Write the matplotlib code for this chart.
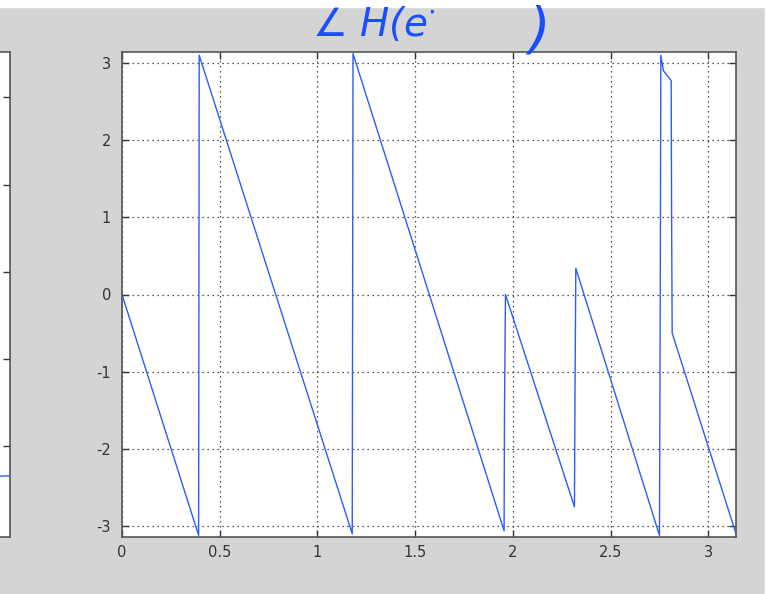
import numpy as np
import matplotlib.pyplot as plt

# phase of H(e^jw), vertices
w = [0.000, 0.392, 0.395, 1.178, 1.182, 1.955, 1.957, 1.962, 2.315, 2.318,
     2.322, 2.750, 2.754, 2.757, 2.770, 2.810, 2.812, 2.815, 3.1416]
phase = [0.00, -3.12, 3.10, -3.10, 3.12, -3.06, -1.52, 0.00, -2.75, -1.20,
         0.34, -3.12, 0.00, 3.10, 2.90, 2.77, 1.05, -0.50, -3.10]

# tail of the left (cut off) panel
w_left = [3.05, 3.10, 3.1416]
mag_left = [-0.36, -0.34, -0.34]

xticks = [0, 0.5, 1, 1.5, 2, 2.5, 3]
xticklabels = ['0', '0.5', '1', '1.5', '2', '2.5', '3']
yticks = [-3, -2, -1, 0, 1, 2, 3]

line_color = '#2a5cff'
bg = '#d4d4d4'

plt.rcParams['axes.unicode_minus'] = False

fig = plt.figure(figsize=(7.67, 5.94), dpi=100, facecolor=bg)
W, H = 767, 594

def style(ax):
    ax.tick_params(direction='in', top=True, right=True, length=5, width=1,
                   color='#333333', labelsize=10.5, labelcolor='#333333')
    for s in ax.spines.values():
        s.set_color('#555555')
        s.set_linewidth(1.2)
    ax.set_facecolor('white')

# left panel, mostly outside the picture (its labels are off-screen)
axl = fig.add_axes([(10 - 614) / W, (594 - 537) / H, 614 / W, 485 / H])
axl.plot(w_left, mag_left, color=line_color, lw=1)
axl.set_xlim(0, np.pi)
axl.set_ylim(-1.04, 4.52)
axl.set_yticks([0, 1, 2, 3, 4])
style(axl)
axl.tick_params(labelleft=False, labelbottom=False)

# main panel
ax = fig.add_axes([122 / W, (594 - 537) / H, 614 / W, 485 / H])
ax.plot(w, phase, color=line_color, lw=1)
ax.set_xlim(0, np.pi)
ax.set_ylim(-np.pi, np.pi)
ax.set_xticks(xticks)
ax.set_xticklabels(xticklabels)
ax.set_yticks(yticks)
ax.grid(True, color='#222222', linestyle=(0, (1, 3)), linewidth=0.9)
style(ax)
ax.tick_params(axis='y', pad=8)
ax.tick_params(axis='x', pad=6)

# white strips at the edges of the screenshot
fig.patches.append(plt.Rectangle((0, 1 - 7 / H), 1, 7 / H, transform=fig.transFigure,
                                 color='white', zorder=0))
fig.patches.append(plt.Rectangle((1 - 2 / W, 0), 2 / W, 1, transform=fig.transFigure,
                                 color='white', zorder=0))

# handwritten note
fig.text(312 / W, 1 - 36 / H, '∠ H(e$^{\\cdot}$', color='#1a4dff', fontsize=28,
         fontstyle='italic', ha='left', va='baseline')
fig.text(528 / W, 1 - 46 / H, ')', color='#1a4dff', fontsize=40,
         fontstyle='italic', ha='left', va='baseline')

fig.savefig('out.png', dpi=100, facecolor=bg)
